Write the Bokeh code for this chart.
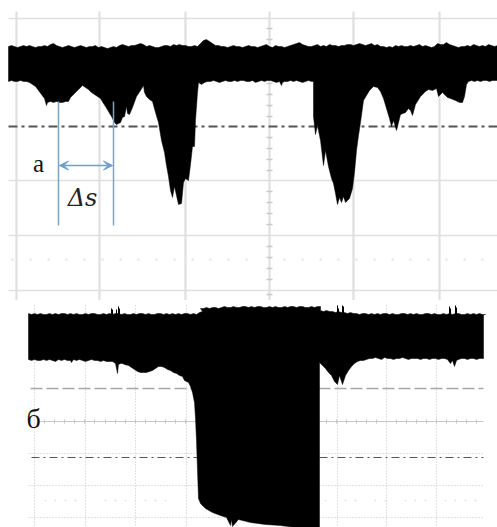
from bokeh.embed import file_html
from bokeh.resources import INLINE
from bokeh.plotting import figure
from bokeh.layouts import column
from bokeh.models import Arrow, VeeHead, Label

# ---- panel a: trace envelope, read every 3 units from x = 8 ----
a_upper_y = [46,45,46,47,46,45,46,45,46,47,46,46,45,46,44,43,45,46,47,46,45,46,47,46,45,46,47,46,46,45,47,46,47,48,47,46,47,45,44,45,46,45,45,44,43,44,46,45,46,47,47,46,45,45,46,44,45,44,45,45,46,46,45,46,43,40,39,41,43,45,45,46,46,47,46,45,46,46,47,46,45,46,46,47,46,45,44,46,47,45,46,46,47,46,45,44,43,42,44,45,46,46,45,44,46,45,46,44,45,45,46,45,45,44,44,45,44,43,44,45,44,43,45,44,46,46,47,46,47,45,46,45,46,46,45,46,45,44,46,45,46,47,46,43,44,44,42,44,45,46,47,46,46,45,46,44,45,46,45,46,44,45,46,45]
a_lower_x = [8,11,14,17,20,23,26,29,32,35,38,41,44,46,47,50,53,56,59,62,65,68,70,72,75,78,80,82,85,88,91,94,97,100,103,105,108,111,114,116,118,120,122,124,126,127,129,132,136,140,143,144,146,149,152,155,158,161,164,166,168,170,172,174,176,178,181,183,185,188,190,192,194,195,197,198,201,204,207,210,213,216,219,222,225,228,231,234,237,240,243,246,249,252,255,258,261,264,267,270,273,276,279,281,282,284,287,290,293,296,299,302,305,308,311,313,313,315,317,320,323,325,328,331,333,335,337,339,341,343,345,347,349,352,354,356,358,360,363,366,369,373,377,380,383,386,389,391,393,396,400,405,408,410,412,415,420,425,428,432,436,438,442,447,450,455,459,462,464,466,468,471,474,477,480,483,486,489,492,497]
a_lower_y = [81,80,81,81,80,81,81,82,84,86,90,94,98,105,102,101,102,101,102,102,101,101,97,95,92,89,87,85,87,89,92,94,96,98,103,106,111,116,122,124,123,122,117,116,106,113,114,107,96,90,85,92,96,99,101,112,122,140,152,165,176,190,197,186,195,204,203,182,178,180,164,146,146,120,92,82,84,82,81,81,80,81,82,81,80,81,81,80,81,80,80,81,81,80,82,81,80,81,80,80,81,82,81,85,82,81,81,80,81,80,81,82,81,80,81,81,116,134,125,140,165,150,166,178,183,193,204,197,202,196,202,200,198,188,172,150,135,122,100,95,90,86,87,91,98,108,118,126,120,130,114,112,108,110,115,104,96,91,89,90,88,96,92,97,98,100,102,102,96,84,81,80,81,80,81,80,80,81,80,80]

a_grid_v = [16,99,185,269,353,439]
a_grid_h = [18,180,235,290]
a_dashdot_y = 126
a_dotted_y = 259
a_centre_ticks_y = [28,39,50,61,72,83,94,105,116,137,148,159,170,191,202,213,224,246,257,268,279,294]
a_dots_x = [12,30,48,66,84,102,120,138,156,174,192,210,228,246,284,302,320,338,356,374,392,410,428,446,464,482]
a_marker_x = [58,113]
a_marker_top = 101
a_marker_bottom = 225
a_arrow_y = 165

# ---- panel б: trace envelope ----
b_upper_left = [313,314,313,314,313,314,314,313,314,313,314,313,313,314,313,314,313,314,314,313,314,313,313,314,314,313,314,313,314,313,313,314,313,314,314,313,314,313,313,314,313,314,314,313,313,314,313,314,313,314,313,314,313,313,314,313,314,312,311]
b_upper_mid = [308,308,307,308,307,307,308,307,306,307,307,306,307,307,306,306,307,306,307,306,306,307,307,306,307,306,307,307,306,307,306,306,307,306,306,307,307,306,307,306,306]
b_upper_right = [310,311,310,311,311,312,311,312,312,313,312,313,313,314,313,313,314,313,314,313,314,313,313,314,313,314,314,313,313,314,313,314,313,314,314,313,313,314,313,314,314,313,314,313,314,313,313,314,314,313,314,313,314,313,314,314]
b_spike_x = [111,112,116,118,119,337,338,342,343,449,450,455,456]
b_spike_y = [308,309,309,306,308,305,308,305,306,306,308,305,307]
b_lower_x = [28,31,34,37,40,43,46,49,52,55,58,61,64,67,70,71,73,76,79,82,85,88,91,94,97,100,103,106,109,112,115,117,118,120,122,124,128,131,134,137,140,143,146,149,152,155,158,161,164,167,170,173,176,179,182,184,186,188,190,192,194,195,196,197,198,200,205,212,220,226,230,231,232,238,250,265,280,295,305,319,319,322,325,328,331,334,337,339,342,345,348,351,354,357,360,363,366,369,372,375,378,381,384,387,390,393,396,399,402,405,408,411,414,417,420,423,426,429,432,435,438,441,444,447,450,452,454,456,458,461,464,467,470,473,476,479,483]
b_lower_y = [359,360,359,360,360,359,360,359,360,361,359,360,359,360,360,362,359,360,359,360,361,360,359,360,360,361,360,361,361,361,363,373,364,363,363,364,365,367,369,371,372,372,372,371,370,368,366,366,367,369,370,372,373,375,376,380,381,382,386,392,402,418,440,470,498,503,508,512,515,517,525,519,526,519,522,524,525,527,528,529,362,365,368,372,375,381,384,375,384,375,370,366,363,361,360,360,359,358,358,357,358,359,357,358,358,359,358,358,357,358,359,358,358,358,359,358,358,359,358,358,359,358,358,359,363,360,366,360,359,358,358,359,358,358,359,358,358]

b_grid_v = [34,85,135,186,236,286,337,386,436]
b_grid_dotted_h = [453,485,517]
b_faint_y = 500
b_dashed_y = 388
b_tick_line_y = 421
b_dashdot_y = 457
b_ticks_x = [44,54,64,74,84,94,105,115,125,135,145,155,165,175,185,326,336,346,356,366,376,396,406,416,426,436,446,456,466,476]
b_faint_x = [45,55,65,75,105,115,125,135,145,155,165,325,345,355,375,385,405,415,425,445,455,465,475]
b_left, b_right = 28, 483

LIGHT = "#e0e0e0"
BLUE = "#6f9fc8"


def panel(h, y0, y1):
    p = figure(width=497, height=h, x_range=(0, 497), y_range=(y1, y0),
               output_backend="svg", toolbar_location=None, min_border=0)
    p.axis.visible = False
    p.grid.visible = False
    p.outline_line_color = None
    p.background_fill_color = "white"
    return p


# panel a
pa = panel(300, 0, 300)
pa.segment(a_grid_v, [11] * 6, a_grid_v, [300] * 6, line_color=LIGHT, line_width=2.2)
pa.segment([8] * 4, a_grid_h, [497] * 4, a_grid_h, line_color=LIGHT, line_width=1.6)
pa.segment([266] * 22, a_centre_ticks_y, [272] * 22, a_centre_ticks_y, line_color="#c9c9c9", line_width=1.5)
pa.scatter(a_dots_x, [a_dotted_y] * 26, size=2, marker="square", fill_color="#e2e2e2", line_color=None)
pa.line([8, 497], [a_dashdot_y] * 2, line_color="#555555", line_width=2, line_dash="9 4 3 4")
a_upper_x = [8 + 3 * i for i in range(len(a_upper_y))]
pa.patch(a_upper_x + a_lower_x[::-1], a_upper_y + a_lower_y[::-1], fill_color="black", line_color="black", line_width=0.5)
pa.segment(a_marker_x, [a_marker_top] * 2, a_marker_x, [a_marker_bottom] * 2, line_color="#7ba3c6", line_width=1.5)
pa.add_layout(Arrow(start=VeeHead(size=9, line_color=BLUE, fill_color=BLUE),
                    end=VeeHead(size=9, line_color=BLUE, fill_color=BLUE),
                    x_start=a_marker_x[0] + 1, y_start=a_arrow_y, x_end=a_marker_x[1] - 1, y_end=a_arrow_y,
                    line_color=BLUE, line_width=1.5))
pa.add_layout(Label(x=38, y=163, text="а", text_font="Liberation Serif", text_font_size="25px",
                    text_color="#111111", text_align="center", text_baseline="middle"))
pa.add_layout(Label(x=82, y=197, text="Δs", text_font="DejaVu Serif", text_font_style="italic",
                    text_font_size="24px", text_color="#222222", text_align="center", text_baseline="middle"))

# panel б
pb = panel(227, 300, 527)
n = len(b_grid_v)
pb.segment(b_grid_v, [305] * n, b_grid_v, [527] * n, line_color="#c4c4c4", line_width=1, line_dash="1 2")
m = len(b_grid_dotted_h)
pb.segment([b_left] * m, b_grid_dotted_h, [b_right] * m, b_grid_dotted_h, line_color="#c4c4c4", line_width=1, line_dash="1 2")
pb.scatter(b_faint_x, [b_faint_y] * len(b_faint_x), size=1.5, marker="square", fill_color="#dddddd", line_color=None)
pb.line([b_left + 2, b_right], [b_dashed_y] * 2, line_color="#a8a8a8", line_width=1.5, line_dash="12 4")
pb.line([b_left + 12, b_right], [b_tick_line_y] * 2, line_color="#c8c8c8", line_width=1.2)
k = len(b_ticks_x)
pb.segment(b_ticks_x, [b_tick_line_y - 2] * k, b_ticks_x, [b_tick_line_y + 2] * k, line_color="#c8c8c8", line_width=1)
pb.line([b_left + 3, b_right], [b_dashdot_y] * 2, line_color="#555555", line_width=1.2, line_dash="8 4 2 4")
b_up_x = ([28 + 3 * i for i in range(len(b_upper_left))]
          + [200 + 3 * i for i in range(len(b_upper_mid))]
          + [320 + 3 * i for i in range(len(b_upper_right))] + [b_right])
b_up_y = b_upper_left + b_upper_mid + b_upper_right + [314]
pb.patch(b_up_x + b_lower_x[::-1], b_up_y + b_lower_y[::-1], fill_color="black", line_color="black", line_width=0.5)
pb.segment(b_spike_x, b_spike_y, b_spike_x, [315] * len(b_spike_x), line_color="black", line_width=1)
pb.add_layout(Label(x=33, y=418, text="б", text_font="Liberation Serif", text_font_size="28px",
                    text_color="#111111", text_align="center", text_baseline="middle"))

layout = column(pa, pb, spacing=0)
open("out.html", "w").write(file_html(layout, INLINE))
